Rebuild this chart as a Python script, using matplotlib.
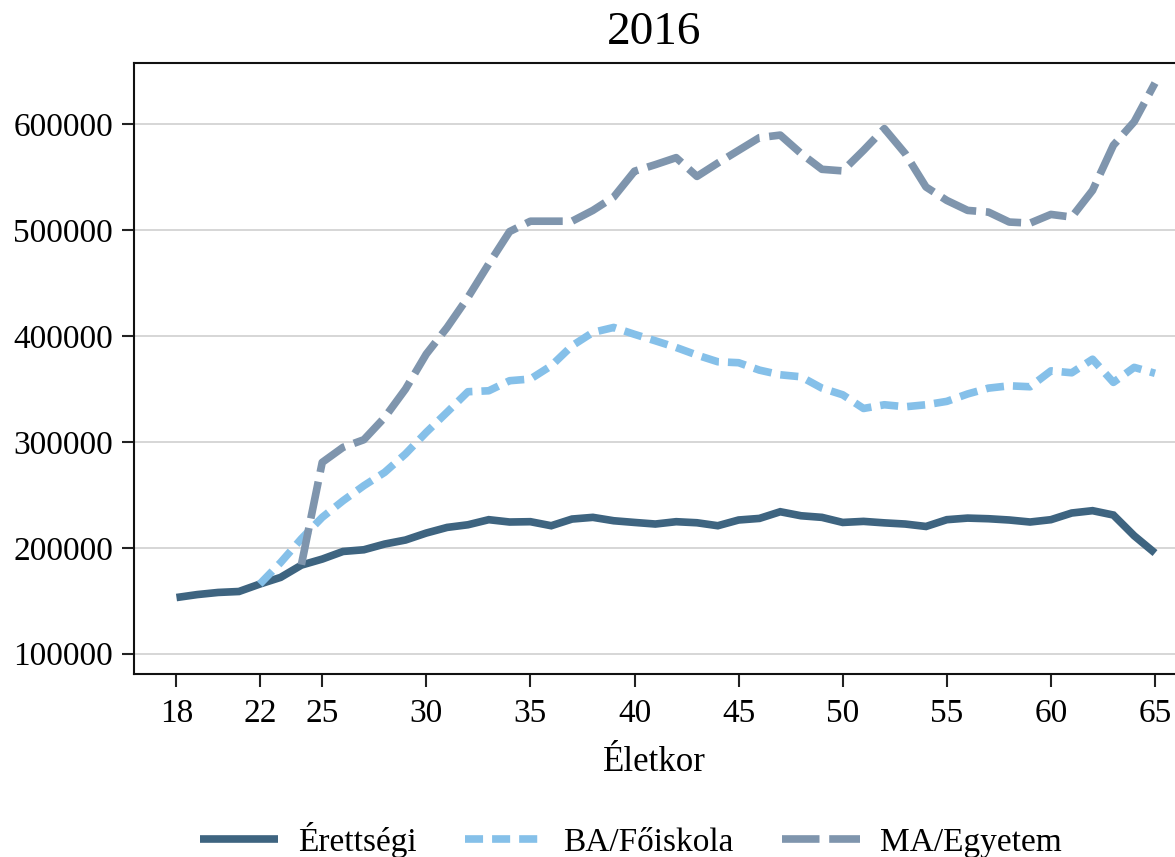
import matplotlib
matplotlib.use("Agg")
import matplotlib.pyplot as plt

plt.rcParams['font.family'] = ['Liberation Serif', 'DejaVu Serif']
plt.rcParams['lines.scale_dashes'] = False

ages_eretts = list(range(18, 66))
eretts = [153000, 155800, 157800, 158700, 165700, 172000, 183600, 189300, 196500, 198100,
          203500, 207300, 213900, 219200, 221700, 226500, 224300, 224600, 220800, 227100,
          228700, 225500, 223900, 222400, 224600, 223600, 220800, 226200, 227700, 234000,
          230200, 228700, 223900, 224900, 223500, 222400, 220100, 226500, 228000, 227400,
          226200, 224300, 226500, 232800, 235000, 230900, 211300, 195000]

ages_ba = list(range(22, 66))
ba = [165700, 186000, 208500, 228700, 244400, 258600, 271200, 288600, 309000, 328000,
      347300, 348200, 357700, 359300, 371800, 390700, 403300, 408000, 401500, 395400,
      389100, 381900, 375600, 374700, 367700, 363300, 361400, 350700, 344400, 331500,
      335000, 333100, 335000, 338200, 345200, 350700, 352900, 352000, 367000, 365200,
      378000, 356100, 370300, 364700]

ages_ma = list(range(24, 66))
ma = [184000, 280600, 294800, 302000, 323000, 349800, 382900, 408000, 436400, 468000,
      498500, 508300, 508300, 508300, 518500, 531100, 555500, 561700, 568300, 550600,
      563200, 575200, 587200, 589600, 572200, 557300, 555800, 575200, 595700, 572200,
      540600, 527900, 518500, 516900, 507500, 506500, 514700, 512200, 537400, 580000,
      602200, 638700]

labels = ['Érettségi', 'BA/Főiskola', 'MA/Egyetem']
colors = ['#3e6480', '#85c0e9', '#7f95ad']
xticks = [18, 22, 25, 30, 35, 40, 45, 50, 55, 60, 65]
yticks = [100000, 200000, 300000, 400000, 500000, 600000]

fig = plt.figure(figsize=(11.75, 8.57), dpi=100)
ax = fig.add_axes([134/1175, 1-674/857, 1041/1175, 611/857])

lw = 5.5
ax.plot(ages_eretts, eretts, color=colors[0], lw=lw, solid_capstyle='butt',
        solid_joinstyle='miter', label=labels[0], zorder=3)
ax.plot(ages_ba, ba, color=colors[1], lw=lw, dashes=(13, 6.5), dash_capstyle='butt',
        label=labels[1], zorder=4)
ax.plot(ages_ma, ma, color=colors[2], lw=lw, dashes=(27, 7), dash_capstyle='butt',
        label=labels[2], zorder=5)

ax.set_xlim(15.96, 65.96)
ax.set_ylim(80810, 657660)
ax.set_xticks(xticks)
ax.set_yticks(yticks)
ax.set_yticklabels([str(v) for v in yticks])
ax.tick_params(axis='both', labelsize=24, length=9, width=1.5, direction='out', color='#222222')
ax.tick_params(axis='x', pad=9)
ax.tick_params(axis='y', pad=6)
ax.grid(axis='y', color='#d0d0d0', lw=1.2)
ax.set_axisbelow(True)
for s in ['left', 'bottom', 'top']:
    ax.spines[s].set_linewidth(1.5)
    ax.spines[s].set_color('#111111')
ax.spines['right'].set_visible(False)

ax.set_title('2016', fontsize=34, pad=14)
ax.set_xlabel('Életkor', fontsize=25, labelpad=12)

leg = fig.legend(loc='center', bbox_to_anchor=(0.537, 1-840/857), ncol=3, frameon=False,
                 fontsize=24, handlelength=2.35, handletextpad=0.6, columnspacing=1.45)

fig.savefig('out.png', dpi=100)
